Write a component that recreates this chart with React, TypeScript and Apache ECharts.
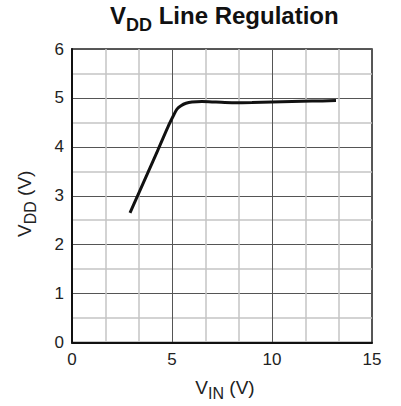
import React, { useEffect, useRef } from "react";
import * as echarts from "echarts";

const vin = [2.9, 3.3, 3.8, 4.3, 4.8, 5.1, 5.25, 5.45, 5.7, 6.0, 6.5, 7.2, 8.0, 9.0, 10.0, 11.0, 12.0, 13.2];
const vdd = [2.65, 3.02, 3.48, 3.94, 4.41, 4.66, 4.77, 4.84, 4.89, 4.915, 4.925, 4.915, 4.902, 4.905, 4.915, 4.925, 4.935, 4.945];

const xTicks = { min: 0, max: 15, interval: 5 };
const yTicks = { min: 0, max: 6, interval: 1 };

const FONT = "'Liberation Sans', Arial, Helvetica, sans-serif";

export default function App() {
  const ref = useRef<HTMLDivElement>(null);
  useEffect(() => {
    if (!ref.current) return;
    const chart = echarts.init(ref.current, null, { renderer: "svg" });
    const data = vin.map((x, i) => [x, vdd[i]]);
    chart.setOption({
      animation: false,
      backgroundColor: "#ffffff",
      textStyle: { fontFamily: FONT },
      title: {
        text: "{v|V}{s|DD}{m| Line Regulation}",
        left: 110,
        top: 3,
        padding: 0,
        textStyle: {
          rich: {
            v: { fontSize: 24, fontWeight: "bold", color: "#111", fontFamily: FONT, lineHeight: 28, verticalAlign: "top" },
            s: { fontSize: 18, fontWeight: "bold", color: "#111", fontFamily: FONT, lineHeight: 18, padding: [16, 0, 0, 0] },
            m: { fontSize: 24, fontWeight: "bold", color: "#111", fontFamily: FONT, lineHeight: 28, verticalAlign: "top" },
          },
        },
      },
      grid: {
        left: 72,
        top: 49,
        width: 300,
        height: 298,
        show: true,
        borderColor: "#222",
        borderWidth: 1.5,
        backgroundColor: "transparent",
      },
      xAxis: {
        type: "value",
        min: xTicks.min,
        max: xTicks.max,
        interval: xTicks.interval,
        name: "{v|V}{s|IN}{v| (V)}",
        nameLocation: "middle",
        nameGap: 35,
        nameTextStyle: {
          padding: [0, 0, 0, 6],
          rich: {
            v: { fontSize: 19, color: "#222", fontFamily: FONT, lineHeight: 21, verticalAlign: "top" },
            s: { fontSize: 16, color: "#222", fontFamily: FONT, lineHeight: 16, padding: [10, 0, 0, 0] },
          },
        },
        axisLine: { show: true, lineStyle: { color: "#111", width: 2 } },
        axisTick: { show: false },
        minorTick: { show: false, splitNumber: 3 },
        axisLabel: { fontSize: 17, color: "#222", margin: 8, fontFamily: FONT },
        splitLine: { show: true, lineStyle: { color: "#555", width: 1 } },
        minorSplitLine: { show: true, lineStyle: { color: "#c4c4c4", width: 1.5 } },
      },
      yAxis: {
        type: "value",
        min: yTicks.min,
        max: yTicks.max,
        interval: yTicks.interval,
        name: "{v|V}{s|DD}{v| (V)}",
        nameLocation: "middle",
        nameGap: 36,
        nameRotate: 90,
        nameTextStyle: {
          padding: [0, 16, 0, 0],
          rich: {
            v: { fontSize: 19, color: "#222", fontFamily: FONT, lineHeight: 21, verticalAlign: "top" },
            s: { fontSize: 16, color: "#222", fontFamily: FONT, lineHeight: 16, padding: [10, 0, 0, 0] },
          },
        },
        axisLine: { show: true, lineStyle: { color: "#111", width: 2 } },
        axisTick: { show: false },
        minorTick: { show: false, splitNumber: 2 },
        axisLabel: { fontSize: 17, color: "#222", margin: 8, fontFamily: FONT },
        splitLine: { show: true, lineStyle: { color: "#555", width: 1 } },
        minorSplitLine: { show: true, lineStyle: { color: "#c4c4c4", width: 1.5 } },
      },
      series: [
        {
          type: "line",
          data,
          smooth: 0.3,
          showSymbol: false,
          lineStyle: { color: "#111", width: 3 },
          z: 5,
        },
      ],
    });
    return () => chart.dispose();
  }, []);
  return (
    <div
      ref={ref}
      style={{ position: "fixed", left: 0, top: 0, width: 401, height: 406, background: "#fff" }}
    />
  );
}
